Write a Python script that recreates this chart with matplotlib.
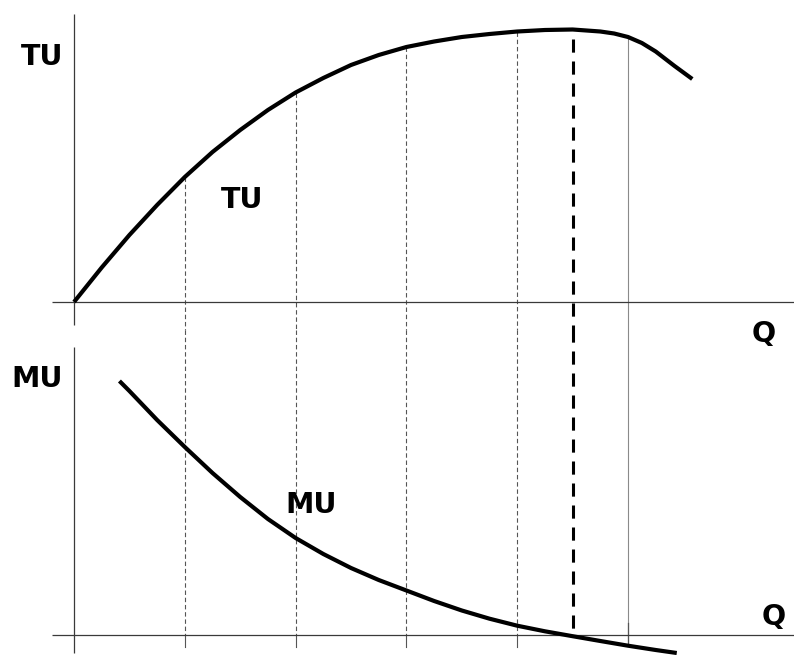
import numpy as np
import matplotlib
matplotlib.use("Agg")
import matplotlib.pyplot as plt

# ---- data (Q units, utility units) ----
q_tu = [0, 0.25, 0.5, 0.75, 1.0, 1.25, 1.5, 1.75, 2.0, 2.25, 2.5, 2.75,
        3.0, 3.25, 3.5, 3.75, 4.0, 4.25, 4.5, 4.75, 4.875, 5.0, 5.125, 5.25,
        5.42, 5.58]
tu = [0, 3.45, 6.7, 9.7, 12.5, 15.0, 17.2, 19.2, 20.95, 22.4, 23.7, 24.7,
      25.5, 26.05, 26.5, 26.8, 27.05, 27.2, 27.25, 27.05, 26.85, 26.5, 25.9,
      25.05, 23.6, 22.3]

q_mu = [0.41, 0.5, 0.75, 1.0, 1.25, 1.5, 1.75, 2.0, 2.25, 2.5, 2.75, 3.0,
        3.25, 3.5, 3.75, 4.0, 4.25, 4.5, 4.75, 5.0, 5.25, 5.44]
mu = [25.4, 24.4, 21.5, 18.8, 16.2, 13.8, 11.6, 9.7, 8.1, 6.7, 5.5, 4.45,
      3.4, 2.45, 1.63, 0.93, 0.37, -0.12, -0.6, -1.07, -1.5, -1.8]

guide_q = [1, 2, 3, 4]      # thin dotted guides
max_q = 4.5                 # TU maximum / MU = 0 (thick dashed)
solid_q = 5                 # thin solid guide

axis_labels_top = ("TU", "Q")
axis_labels_bot = ("MU", "Q")
curve_labels = ("TU", "MU")

# ---- figure ----
W, H = 794, 655
fig = plt.figure(figsize=(W / 100, H / 100), dpi=100)
fig.patch.set_facecolor("white")

xlim = (-0.668, 6.498)
ax_t = fig.add_axes([0, 1 - 330 / H, 1, 330 / H])
ax_b = fig.add_axes([0, 0, 1, 1 - 330 / H])
ax_t.set_xlim(*xlim); ax_t.set_ylim(-2.8, 30.2)
ax_b.set_xlim(*xlim); ax_b.set_ylim(-2.0, 30.5)
for a in (ax_t, ax_b):
    a.set_axis_off()

axis_kw = dict(color="#3a3a3a", lw=0.9, solid_capstyle="butt", zorder=2)
curve_kw = dict(color="black", lw=3.0, solid_capstyle="butt", solid_joinstyle="round", zorder=5)
dot_kw = dict(color="#555555", lw=0.8, linestyle=(0, (4, 2.5)), zorder=1)

# axes of the diagrams
ax_t.plot([-0.2, 6.5], [0, 0], **axis_kw)
ax_t.plot([0, 0], [-2.3, 28.8], **axis_kw)
ax_b.plot([-0.2, 6.5], [0, 0], **axis_kw)
ax_b.plot([0, 0], [-1.8, 28.8], **axis_kw)

# guides
tu_at = np.interp(guide_q + [solid_q], q_tu, tu)
for q, top in zip(guide_q, tu_at[:-1]):
    ax_t.plot([q, q], [top, -2.8], clip_on=False, **dot_kw)
    ax_b.plot([q, q], [30.5, 0], **dot_kw)
    ax_b.plot([q, q], [0, -1.2], color="#555555", lw=0.8, zorder=1)
ax_t.plot([solid_q, solid_q], [tu_at[-1], -2.8], color="#8a8a8a", lw=0.8, zorder=1)
ax_b.plot([solid_q, solid_q], [30.5, -1.0], color="#8a8a8a", lw=0.8, zorder=1)
ax_b.plot([solid_q, solid_q], [1.2, -1.0], color="#555555", lw=0.9, zorder=1)

dash_kw = dict(color="black", lw=2.2, linestyle=(0, (4.3, 2.9)), dash_capstyle="butt", zorder=4)
ax_t.plot([max_q, max_q], [26.3, -2.8], **dash_kw)
ax_b.plot([max_q, max_q], [30.5 + 0.05, 0], **dash_kw)

# curves
ax_t.plot(q_tu, tu, **curve_kw)
ax_b.plot(q_mu, mu, clip_on=False, **curve_kw)

# labels
fkw = dict(fontsize=20.5, fontweight="bold", family="DejaVu Sans", ha="center", va="baseline", color="black")
ax_t.text(-0.289, 23.7, axis_labels_top[0], **fkw)
ax_t.text(6.227, -3.97, axis_labels_top[1], clip_on=False, **fkw)
ax_t.text(1.513, 9.37, curve_labels[0], **fkw)
ax_b.text(-0.337, 24.83, axis_labels_bot[0], **fkw)
ax_b.text(6.318, 1.0, axis_labels_bot[1], **fkw)
ax_b.text(2.143, 12.17, curve_labels[1], zorder=6, **fkw)

fig.savefig("out.png", dpi=100, facecolor="white")
